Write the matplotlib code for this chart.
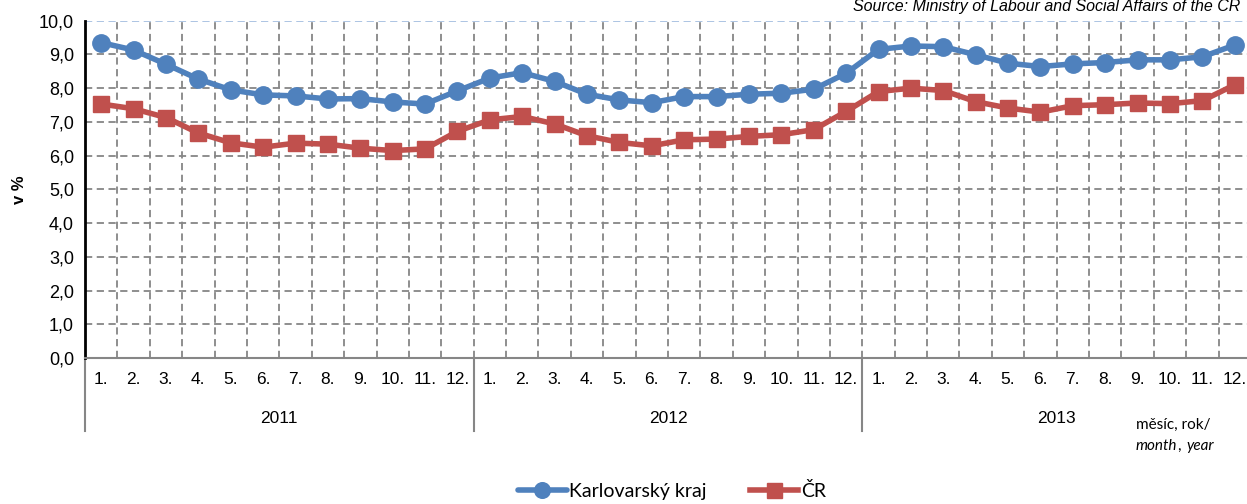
import matplotlib
matplotlib.use("Agg")
import matplotlib.pyplot as plt
from matplotlib import font_manager
from matplotlib.lines import Line2D

months = ["1.", "2.", "3.", "4.", "5.", "6.", "7.", "8.", "9.", "10.", "11.", "12."]
years = ["2011", "2012", "2013"]
karlovarsky = [9.35, 9.13, 8.71, 8.27, 7.95, 7.80, 7.77, 7.68, 7.69, 7.59, 7.53, 7.92,
               8.30, 8.46, 8.20, 7.82, 7.65, 7.57, 7.75, 7.75, 7.82, 7.85, 7.97, 8.44,
               9.15, 9.25, 9.23, 8.99, 8.74, 8.64, 8.72, 8.76, 8.84, 8.84, 8.93, 9.28]
cr = [7.53, 7.39, 7.13, 6.67, 6.38, 6.25, 6.37, 6.34, 6.22, 6.15, 6.20, 6.72,
      7.06, 7.16, 6.94, 6.59, 6.39, 6.29, 6.47, 6.49, 6.57, 6.62, 6.77, 7.31,
      7.90, 8.00, 7.93, 7.60, 7.41, 7.29, 7.48, 7.51, 7.56, 7.54, 7.63, 8.10]
series_names = ["Karlovarský kraj", "ČR"]
yticks = [0, 1, 2, 3, 4, 5, 6, 7, 8, 9, 10]

names = {f.name for f in font_manager.fontManager.ttflist}
ARIAL = "Liberation Sans"
NARROW = "Liberation Sans Narrow" if "Liberation Sans Narrow" in names else "Liberation Sans"
CAL = "Lato"

W, H = 1247, 504
fig = plt.figure(figsize=(W / 100, H / 100), dpi=100)
ax = fig.add_axes([85 / W, 1 - 358 / H, (1251 - 85) / W, (358 - 20.7) / H])

n = len(karlovarsky)
x = list(range(n))
blue = "#4F81BD"
red = "#C0504D"
grid = "#868686"

# grid
for v in yticks[1:-1]:
    ax.axhline(v, color=grid, lw=1.3, ls=(0, (4, 2.5)), zorder=1)
ax.axhline(10, color="#A6BFE0", lw=1.3, ls=(0, (4, 2.5)), zorder=1)
for k in range(1, n):
    ax.axvline(k - 0.5, color=grid, lw=1.3, ls=(0, (4, 2.5)), zorder=1)

ax.plot(x, karlovarsky, color=blue, lw=4, marker="o", ms=12.5, zorder=3,
        label=series_names[0], solid_capstyle="round")
ax.plot(x, cr, color=red, lw=4, marker="s", ms=12, zorder=3,
        label=series_names[1])

ax.set_xlim(-0.5, n - 0.5)
ax.set_ylim(0, 10)
ax.set_yticks(yticks)
ax.set_yticklabels([f"{v:.1f}".replace(".", ",") for v in yticks],
                   fontsize=13, family=ARIAL)
ax.tick_params(axis="y", length=0, pad=8)
ax.set_xticks(x)
ax.set_xticklabels(months * len(years), fontsize=12.5, family=NARROW)
ax.tick_params(axis="x", length=0, pad=10)

for s in ["top", "right"]:
    ax.spines[s].set_visible(False)
ax.spines["left"].set_color("black")
ax.spines["left"].set_linewidth(2)
ax.spines["bottom"].set_color(grid)
ax.spines["bottom"].set_linewidth(1.5)

# year level
trans = ax.get_xaxis_transform()
for i, yr in enumerate(years):
    ax.text(i * 12 + 5.5, -0.18, yr, transform=trans, ha="center", va="center",
            fontsize=12.5, family=NARROW)
for i in range(len(years) + 1):
    ax.add_line(Line2D([i * 12 - 0.5, i * 12 - 0.5], [0, -0.215], transform=trans,
                       color=grid, lw=1.5, clip_on=False))

ax.set_ylabel("v %", fontsize=12, family=ARIAL, fontweight="bold")
ax.yaxis.set_label_coords(-0.050, 0.5)

fig.text(1240 / W, 1 - 7 / H, "Source: Ministry of Labour and Social Affairs of the CR",
         ha="right", va="center", fontsize=11.5, family=ARIAL, style="italic")

fig.text(1136 / W, 1 - 425 / H, "měsíc, rok/", ha="left", va="center",
         fontsize=11, family=CAL)
fig.text(1136 / W, 1 - 446 / H, "month", ha="left", va="center",
         fontsize=11, family=CAL, style="italic")
fig.text(1177 / W, 1 - 446 / H, ",", ha="left", va="center",
         fontsize=11, family=CAL)
fig.text(1186 / W, 1 - 446 / H, "year", ha="left", va="center",
         fontsize=11, family=CAL, style="italic")

leg = fig.legend(loc="center", bbox_to_anchor=(0.539, 1 - 491 / H), ncol=2,
                 frameon=False, prop={"family": CAL, "size": 14},
                 handlelength=2.5, handletextpad=0.15, columnspacing=2.2,
                 markerscale=0.9)

fig.savefig("out.png", dpi=100)
